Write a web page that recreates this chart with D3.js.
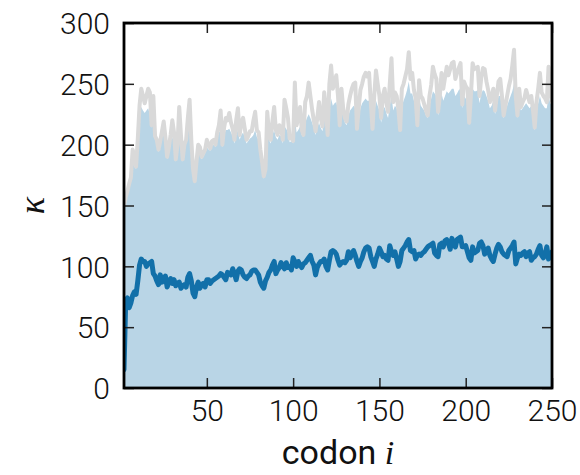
<!DOCTYPE html>
<html>
<head>
<meta charset="utf-8">
<script src="https://cdn.jsdelivr.net/npm/d3@7"></script>
<style>
  html, body { margin: 0; padding: 0; background: #fff; }
  svg { display: block; }
</style>
</head>
<body>
<svg id="chart" width="580" height="475"></svg>
<script>
// Codon positions 2..250
const codonStart = 2;

// Upper edge of the shaded band (per codon)
const bandUpper = [
  148,155,160,166,172,185,182,180,200,222,231,228,226,228,230,225,214,225,205,200,
  194,200,207,208,202,188,196,204,206,202,186,197,210,200,186,197,201,210,215,200,
  178,168,184,195,194,188,190,193,198,196,195,199,200,198,205,210,212,198,208,212,
  212,213,210,207,201,208,212,204,208,210,206,201,203,205,206,208,212,206,204,193,
  184,172,178,208,204,201,208,212,206,204,208,207,201,215,213,210,202,203,201,222,
  210,212,215,208,206,218,222,225,222,218,214,208,214,218,214,211,222,218,206,228,
  238,232,234,235,228,214,230,224,218,216,224,228,230,232,230,211,222,230,234,236,
  238,236,236,226,211,226,236,232,228,218,228,231,226,222,232,240,228,232,230,224,
  210,232,236,240,245,252,242,242,236,232,214,238,232,230,228,224,222,232,238,244,
  242,240,224,232,242,236,240,244,242,244,246,246,240,242,245,246,230,240,238,236,
  216,232,246,244,244,245,234,242,245,244,240,236,230,232,236,225,232,240,240,232,
  222,228,232,236,240,244,250,232,222,234,228,230,232,234,232,230,232,225,212,228,
  234,240,234,232,230,230,240,234,232
];

// Grey reference curve (per codon)
const greyCurve = [
  150,157,162,168,173,196,190,182,205,232,246,240,234,240,246,243,216,240,207,204,
  196,203,211,219,206,190,198,208,220,210,188,200,231,208,188,200,204,222,237,204,
  180,170,186,200,198,190,193,196,204,200,197,203,204,200,210,216,228,200,214,222,
  220,226,218,213,204,220,230,208,218,222,213,204,207,211,211,220,227,212,210,196,
  186,174,180,227,210,204,219,231,212,208,216,214,204,237,230,222,205,206,203,251,
  216,222,231,212,208,235,240,251,240,229,220,211,222,235,222,215,243,230,208,250,
  265,246,251,257,240,216,246,230,222,219,233,240,246,250,251,213,230,245,250,256,
  259,256,259,235,213,240,261,250,240,222,240,246,235,227,250,271,235,243,240,229,
  212,246,250,256,262,276,254,259,245,238,216,253,240,238,233,228,224,240,249,264,
  258,254,227,240,259,246,255,264,257,262,267,268,254,259,263,267,233,252,248,246,
  218,240,267,262,263,264,240,255,263,262,252,245,235,240,246,228,240,252,254,240,
  224,232,240,248,254,265,278,240,224,246,231,235,238,245,240,235,240,228,214,235,
  246,259,243,240,238,235,264,241,236
];

// Dark blue central curve (per codon)
const centerCurve = [
  15,72,74,66,70,76,79,77,88,101,106,104,104,100,102,103,104,94,92,88,
  85,93,87,90,92,83,87,90,86,89,84,86,87,82,84,85,83,91,94,88,
  78,75,83,87,82,85,86,83,89,89,86,88,89,90,91,92,94,93,91,89,
  95,94,93,98,94,89,96,98,97,93,91,90,92,93,96,97,97,95,93,87,
  84,82,88,91,95,97,101,104,94,97,99,103,100,98,103,99,100,97,107,104,
  100,104,101,99,102,103,105,107,109,104,101,93,99,102,104,104,106,100,97,105,
  112,113,112,110,105,101,103,104,103,105,112,107,110,113,109,104,100,104,107,112,
  115,116,115,108,104,100,106,110,115,112,108,109,106,105,117,112,109,112,106,100,
  104,113,115,117,120,122,113,112,113,106,109,110,109,111,112,114,116,117,118,119,
  111,109,108,118,119,116,121,122,119,114,123,119,116,122,123,124,116,116,117,112,
  107,105,116,111,112,113,119,120,117,110,112,115,109,106,104,110,115,118,116,112,
  110,109,108,113,115,117,120,102,107,110,109,111,112,108,111,112,105,107,108,110,
  114,117,109,107,110,116,106,109,112
];

const xTicks = [50, 100, 150, 200, 250];
const yTicks = [0, 50, 100, 150, 200, 250, 300];
const xLabel = "codon ";
const xLabelVar = "i";
const yLabel = "κ";

const rows = greyCurve.map((g, k) => ({
  codon: codonStart + k,
  band: bandUpper[k],
  grey: g,
  center: centerCurve[k]
}));

const svg = d3.select("#chart");
const plotL = 124, plotR = 552, plotT = 23, plotB = 388;

const x = d3.scaleLinear().domain([codonStart, 250]).range([plotL, plotR]);
const y = d3.scaleLinear().domain([0, 300]).range([plotB, plotT]);

svg.append("defs").append("clipPath").attr("id", "plot-clip")
  .append("rect").attr("x", plotL).attr("y", plotT)
  .attr("width", plotR - plotL).attr("height", plotB - plotT);

const plot = svg.append("g").attr("clip-path", "url(#plot-clip)");

// shaded band from zero up to the upper edge
plot.append("path")
  .datum(rows)
  .attr("fill", "#b9d5e6")
  .attr("d", d3.area().x(d => x(d.codon)).y0(y(0)).y1(d => y(d.band)));

// grey curve
plot.append("path")
  .datum(rows)
  .attr("fill", "none")
  .attr("stroke", "#d9d9d9")
  .attr("stroke-width", 4)
  .attr("stroke-linejoin", "round")
  .attr("stroke-linecap", "round")
  .attr("d", d3.line().x(d => x(d.codon)).y(d => y(d.grey)));

// central curve
plot.append("path")
  .datum(rows)
  .attr("fill", "none")
  .attr("stroke", "#1270a9")
  .attr("stroke-width", 5)
  .attr("stroke-linejoin", "round")
  .attr("stroke-linecap", "round")
  .attr("d", d3.line().x(d => x(d.codon)).y(d => y(d.center)));

const tickFont = "Roboto, 'Liberation Sans', sans-serif";
const tickLen = 10;

// inward ticks on all four sides
const axBottom = d3.axisBottom(x).tickValues(xTicks).tickSizeInner(-tickLen).tickSizeOuter(0).tickPadding(12).tickFormat(d3.format("d"));
const axTop = d3.axisTop(x).tickValues(xTicks).tickSizeInner(-tickLen).tickSizeOuter(0).tickFormat("");
const axLeft = d3.axisLeft(y).tickValues(yTicks).tickSizeInner(-tickLen).tickSizeOuter(0).tickPadding(14).tickFormat(d3.format("d"));
const axRight = d3.axisRight(y).tickValues(yTicks).tickSizeInner(-tickLen).tickSizeOuter(0).tickFormat("");

function styleAxis(g) {
  g.select(".domain").remove();
  g.selectAll(".tick line").attr("stroke", "#222").attr("stroke-width", 1.5);
  g.selectAll(".tick text")
    .attr("fill", "#111")
    .style("font-family", tickFont)
    .style("font-weight", 300)
    .style("font-size", "30px");
}

svg.append("g").attr("transform", `translate(0,${plotB})`).call(axBottom).call(styleAxis)
  .selectAll(".tick text").attr("dy", "0.71em");
svg.append("g").attr("transform", `translate(0,${plotT})`).call(axTop).call(styleAxis);
svg.append("g").attr("transform", `translate(${plotL},0)`).call(axLeft).call(styleAxis)
  .selectAll(".tick text").attr("dy", "0.36em");
svg.append("g").attr("transform", `translate(${plotR},0)`).call(axRight).call(styleAxis);

// frame
svg.append("rect")
  .attr("x", plotL).attr("y", plotT)
  .attr("width", plotR - plotL).attr("height", plotB - plotT)
  .attr("fill", "none").attr("stroke", "#000").attr("stroke-width", 2.8);

// axis titles
const xt = svg.append("text")
  .attr("x", (plotL + plotR) / 2).attr("y", 464)
  .attr("text-anchor", "middle")
  .style("font-family", tickFont).style("font-weight", 400).style("font-size", "34px")
  .attr("fill", "#111");
xt.append("tspan").text(xLabel);
xt.append("tspan").text(xLabelVar)
  .style("font-family", "'Liberation Serif', 'DejaVu Serif', serif")
  .style("font-style", "italic").style("font-weight", 400);

svg.append("text")
  .attr("transform", `translate(44,${(plotT + plotB) / 2}) rotate(-90)`)
  .attr("text-anchor", "middle")
  .style("font-family", "'Liberation Serif', 'DejaVu Serif', serif")
  .style("font-style", "italic")
  .style("font-size", "36px")
  .attr("fill", "#111")
  .text(yLabel);
</script>
</body>
</html>
